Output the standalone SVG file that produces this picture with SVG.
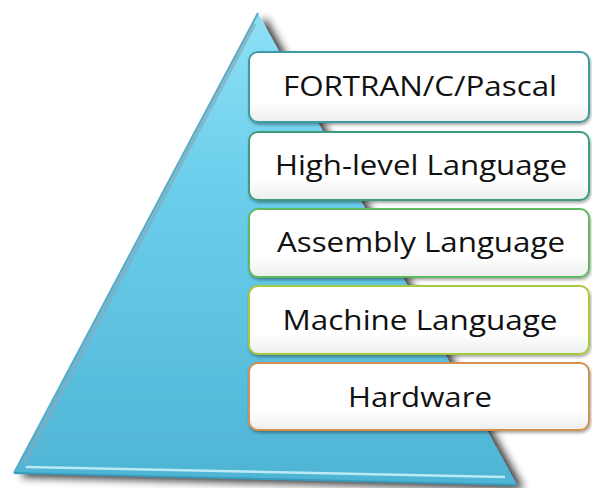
<svg xmlns="http://www.w3.org/2000/svg" width="592" height="488" viewBox="0 0 592 488">
<defs>
  <linearGradient id="tri" x1="0" y1="0" x2="0" y2="1">
    <stop offset="0" stop-color="#8fe0f6"/>
    <stop offset="0.35" stop-color="#6ccfec"/>
    <stop offset="1" stop-color="#4fb4d4"/>
  </linearGradient>
  <linearGradient id="box" x1="0" y1="0" x2="0" y2="1">
    <stop offset="0" stop-color="#ffffff"/>
    <stop offset="0.7" stop-color="#ffffff"/>
    <stop offset="1" stop-color="#eceeee"/>
  </linearGradient>
  <filter id="sh" x="-10%" y="-10%" width="130%" height="130%">
    <feGaussianBlur in="SourceAlpha" stdDeviation="4"/>
    <feOffset dx="7" dy="4" result="b"/>
    <feComponentTransfer><feFuncA type="linear" slope="0.8"/></feComponentTransfer>
    <feMerge><feMergeNode/><feMergeNode in="SourceGraphic"/></feMerge>
  </filter>
  <filter id="bs" x="-5%" y="-10%" width="110%" height="130%">
    <feGaussianBlur in="SourceAlpha" stdDeviation="1.5"/>
    <feOffset dx="1" dy="2"/>
    <feComponentTransfer><feFuncA type="linear" slope="0.35"/></feComponentTransfer>
    <feMerge><feMergeNode/><feMergeNode in="SourceGraphic"/></feMerge>
  </filter>
</defs>
<style>
  .bx { fill: url(#box); stroke-width: 2; filter: url(#bs); }
  .t { font-family: "Open Sans", "Liberation Sans", sans-serif; font-size: 27px; fill: #111; text-anchor: middle; }
</style>
<g id="pyramid">
  <path d="M258,13 L517,485 L14,473 Z" fill="url(#tri)" filter="url(#sh)"/>
  <path d="M255,24 L24,463" stroke="#8aa8b8" stroke-width="3" fill="none" opacity="0.7"/>
  <path d="M258,13 L14,473" stroke="#5aaac4" stroke-width="2" fill="none"/>
  <path d="M26,467 L505,477" stroke="#d8f6fc" stroke-width="2.5" fill="none" opacity="0.8"/>
  <path d="M14,473 L517,485" stroke="#3a9cbc" stroke-width="2" fill="none"/>
</g>
<g id="n1">
  <rect class="bx" x="249" y="52" width="340" height="70" rx="9" stroke="#3f9aa6"/>
  <text class="t" x="420" y="96" textLength="274" lengthAdjust="spacingAndGlyphs">FORTRAN/C/Pascal</text>
</g>
<g id="n2">
  <rect class="bx" x="249" y="132" width="340" height="68" rx="9" stroke="#3e9c7a"/>
  <text class="t" x="421" y="175" textLength="292" lengthAdjust="spacingAndGlyphs">High-level Language</text>
</g>
<g id="n3">
  <rect class="bx" x="249" y="209" width="340" height="68" rx="9" stroke="#5db85e"/>
  <text class="t" x="421" y="252" textLength="288" lengthAdjust="spacingAndGlyphs">Assembly Language</text>
</g>
<g id="n4">
  <rect class="bx" x="249" y="286" width="340" height="68" rx="9" stroke="#a9c93e"/>
  <text class="t" x="420" y="330" textLength="275" lengthAdjust="spacingAndGlyphs">Machine Language</text>
</g>
<g id="n5">
  <rect class="bx" x="249" y="363" width="340" height="67" rx="9" stroke="#d39050"/>
  <text class="t" x="420" y="407" textLength="144" lengthAdjust="spacingAndGlyphs">Hardware</text>
</g>
<g id="connectors"/>
</svg>
